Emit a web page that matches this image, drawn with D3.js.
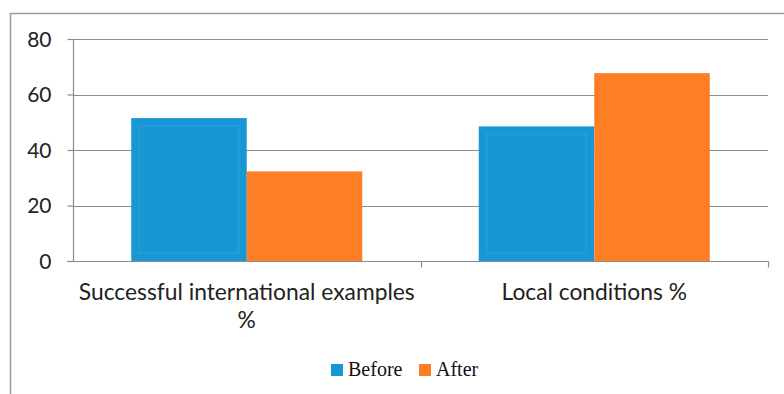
<!DOCTYPE html>
<html><head><meta charset="utf-8">
<script src="https://cdn.jsdelivr.net/npm/d3@7"></script>
<style>body{margin:0;background:#fff;}svg{display:block;}</style>
</head><body>
<svg id="c" width="784" height="394"></svg>
<script>
const categories = ["Successful international examples %", "Local conditions %"];
const categoryLines = [["Successful international examples", "%"], ["Local conditions %"]];
const seriesNames = ["Before", "After"];
const beforeValues = [51.5, 48.5];
const afterValues = [32.3, 67.7];
const yTicks = [0, 20, 40, 60, 80];
const colors = ["#1897D5", "#FD7E23"];

const svg = d3.select("#c");
// frame
svg.append("line").attr("x1",10.5).attr("x2",784).attr("y1",13.5).attr("y2",13.5).attr("stroke","#9a9a9a").attr("stroke-width",1.5);
svg.append("line").attr("x1",10.5).attr("x2",10.5).attr("y1",13).attr("y2",394).attr("stroke","#9a9a9a").attr("stroke-width",1.5);

const x0 = d3.scaleBand().domain(categories).range([73, 768]).paddingInner(0).paddingOuter(0);
const y = d3.scaleLinear().domain([0, 80]).range([261, 39]);
const groupW = 231;

// gridlines
svg.append("g").selectAll("line").data(yTicks.filter(d=>d>0)).join("line")
  .attr("x1",73).attr("x2",768).attr("y1",d=>Math.round(y(d))+0.5).attr("y2",d=>Math.round(y(d))+0.5)
  .attr("stroke","#8c8c8c").attr("stroke-width",1.2);

const x1 = d3.scaleBand().domain(seriesNames).range([0, groupW]);
const data = categories.map((c,i)=>({cat:c, vals:[beforeValues[i], afterValues[i]]}));

const g = svg.append("g").selectAll("g").data(data).join("g")
  .attr("transform", d=>`translate(${x0(d.cat) + (x0.bandwidth()-groupW)/2},0)`);
g.selectAll("rect.bar").data(d=>d.vals.map((v,j)=>({v, s:seriesNames[j], j}))).join("rect")
  .attr("class","bar")
  .attr("x", d=>x1(d.s)).attr("width", x1.bandwidth())
  .attr("y", d=>y(d.v)).attr("height", d=>y(0)-y(d.v))
  .attr("fill", d=>colors[d.j]);
// inner bevel on blue bars
g.selectAll("rect.inner").data(d=>[{v:d.vals[0], s:seriesNames[0]}]).join("rect")
  .attr("class","inner")
  .attr("x", d=>x1(d.s)+8).attr("width", x1.bandwidth()-16)
  .attr("y", d=>y(d.v)+8).attr("height", d=>y(0)-y(d.v)-16)
  .attr("fill","none").attr("stroke","#249dd9").attr("stroke-width",2);

// y axis
const yAxis = d3.axisLeft(y).tickValues(yTicks).tickSize(6).tickPadding(16);
const ya = svg.append("g").attr("transform","translate(73.5,0)").call(yAxis);
ya.select(".domain").attr("stroke","#8c8c8c").attr("stroke-width",1.2).attr("d","M0,39V261.5");
ya.selectAll(".tick line").attr("stroke","#8c8c8c").attr("stroke-width",1.2);
ya.selectAll(".tick text").attr("font-family","Lato, 'Open Sans', sans-serif").attr("font-size",21).attr("fill","#222").attr("dy","0.35em");

// x axis
const xa = svg.append("g").attr("transform","translate(0,261.5)");
xa.append("line").attr("x1",67).attr("x2",768.5).attr("stroke","#8c8c8c").attr("stroke-width",1.2);
const bounds = [73, 73 + x0.bandwidth(), 768];
xa.selectAll("line.t").data(bounds.slice(1)).join("line").attr("class","t")
  .attr("x1",d=>Math.round(d)+0.5).attr("x2",d=>Math.round(d)+0.5).attr("y1",0).attr("y2",6)
  .attr("stroke","#8c8c8c").attr("stroke-width",1.2);

const labels = svg.append("g").selectAll("text").data(categories).join("text")
  .attr("font-family","Lato, 'Open Sans', sans-serif").attr("font-size",22.8).attr("fill","#222")
  .attr("text-anchor","middle");
labels.each(function(d,i){
  const t = d3.select(this);
  categoryLines[i].forEach((ln,k)=>{
    t.append("tspan").attr("x", x0(d)+x0.bandwidth()/2).attr("y", 300 + k*28).text(ln);
  });
});

// legend
const lg = svg.append("g").attr("font-family","'Liberation Serif', 'Times New Roman', serif").attr("font-size",20).attr("fill","#111");
const legendX = [331, 419];
seriesNames.forEach((s,j)=>{
  lg.append("rect").attr("x",legendX[j]).attr("y",364).attr("width",12).attr("height",12).attr("fill",colors[j]);
  lg.append("text").attr("x",legendX[j]+17).attr("y",376).text(s);
});
</script>
</body></html>
